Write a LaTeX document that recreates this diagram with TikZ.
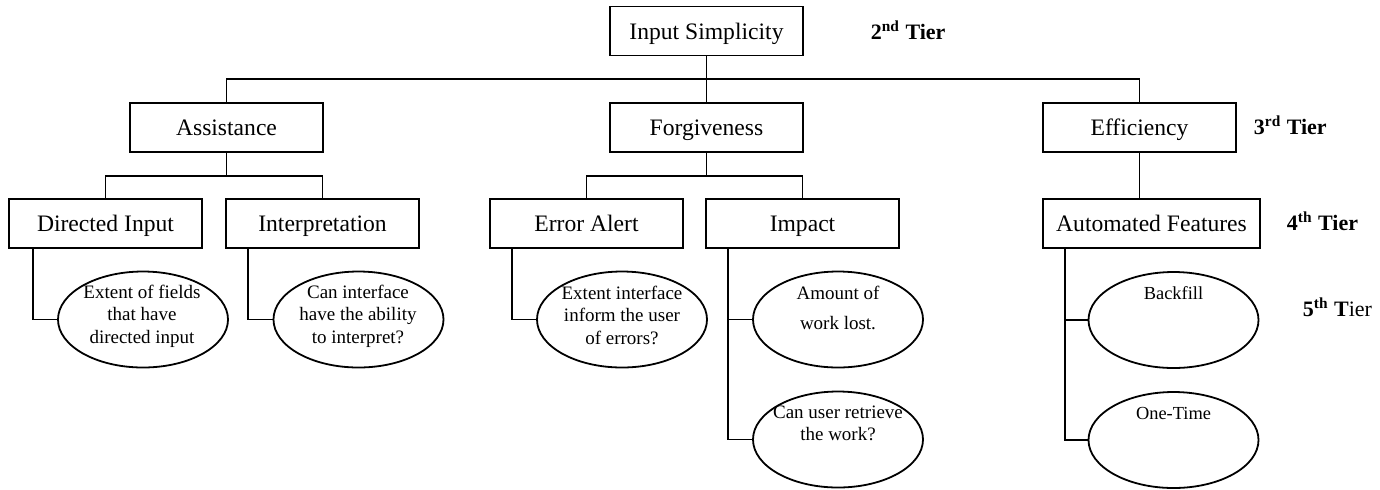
\documentclass[tikz,border=0pt]{standalone}
\usepackage{fontspec}
\setmainfont{Liberation Serif}
\usetikzlibrary{shapes.geometric}
\begin{document}
\begin{tikzpicture}[x=0.5pt,y=-0.5pt,
  line width=0.9pt,
  tbox/.style={draw, rectangle, inner sep=0pt, minimum width=96.5pt,
    minimum height=24.5pt, text height=9.4pt, text depth=1.2pt,
    font=\fontsize{11.8}{14}\selectfont},
  oval/.style={draw, ellipse, inner sep=0pt, minimum width=85pt,
    minimum height=48pt},
  otext/.style={align=center, inner sep=0pt,
    font=\fontsize{9.5}{11.25}\selectfont},
  tier/.style={anchor=base west, inner sep=0pt,
    font=\fontsize{11}{13}\selectfont}]
\useasboundingbox (0,0) rectangle (1380,489);

% second tier
\node[tbox] (top) at (706.5,31) {Input Simplicity};
\node[tier] (tier2) at (870,39) {\textbf{2\textsuperscript{nd} Tier}};

% third tier
\node[tbox] (A) at (226.5,127.5) {Assistance};
\node[tbox] (F) at (706.5,127.5) {Forgiveness};
\node[tbox] (E) at (1139.5,127.5) {Efficiency};
\node[tier] (tier3) at (1253,134) {\textbf{3\textsuperscript{rd} Tier}};

% fourth tier
\node[tbox] (DI) at (105.5,223.5) {Directed Input};
\node[tbox] (IN) at (322.5,223.5) {Interpretation};
\node[tbox] (EA) at (586.5,223.5) {Error Alert};
\node[tbox] (IM) at (802.5,223.5) {Impact};
\node[tbox, minimum width=108.5pt] (AF) at (1151.5,223.5) {Automated Features};
\node[tier] (tier4) at (1286,230) {\textbf{4\textsuperscript{th} Tier}};

% fifth tier
\node[oval] (o1) at (143,319.5) {};
\node[oval] (o2) at (358.5,319.5) {};
\node[oval] (o3) at (622,319.5) {};
\node[oval] (o4) at (838,319.5) {};
\node[oval] (o5) at (838,439.5) {};
\node[oval] (o6) at (1173.5,320) {};
\node[oval] (o7) at (1173.5,440) {};
\node[tier] (tier5) at (1302,316) {\textbf{5\textsuperscript{th} T}ier};

\node[otext] (t1) at (142,316) {Extent of fields\\that have\\directed input};
\node[otext] (t2) at (358,316) {Can interface\\have the ability\\to interpret?};
\node[otext] (t3) at (622,315) {Extent interface\\inform the user\\of errors?};
\node[otext, font=\fontsize{9.5}{15}\selectfont] (t4) at (838,308) {Amount of\\work lost.};
\node[otext] (t5) at (838,423.5) {Can user retrieve\\the work?};
\node[otext, font=\fontsize{9.2}{11}\selectfont] (t6) at (1173.5,293) {Backfill};
\node[otext, font=\fontsize{9.2}{11}\selectfont] (t7) at (1173.5,413) {One-Time};

% bus coordinates
\coordinate (b2) at (706.5,79);
\coordinate (bA) at (226.5,176);
\coordinate (bF) at (706.5,176);

% tree connectors
\draw (top.south) -- (b2);
\draw (A.north) |- (b2) -| (E.north);
\draw (F.north) -- (b2);

\draw (A.south) -- (bA);
\draw (DI.north) |- (bA) -| (IN.north);
\draw (F.south) -- (bF);
\draw (EA.north) |- (bF) -| (IM.north);
\draw (E.south) -- (E.south |- AF.north);

% leaf connectors
\draw ([xshift=12.5pt]DI.south west) |- (o1.west);
\draw ([xshift=11.5pt]IN.south west) |- (o2.west);
\draw ([xshift=11.5pt]EA.south west) |- (o3.west);
\draw ([xshift=11.5pt]IM.south west) |- (o4.west);
\draw ([xshift=11.5pt]IM.south west) |- (o5.west);
\draw ([xshift=11.5pt]AF.south west) |- (o6.west);
\draw ([xshift=11.5pt]AF.south west) |- (o7.west);
\end{tikzpicture}
\end{document}
